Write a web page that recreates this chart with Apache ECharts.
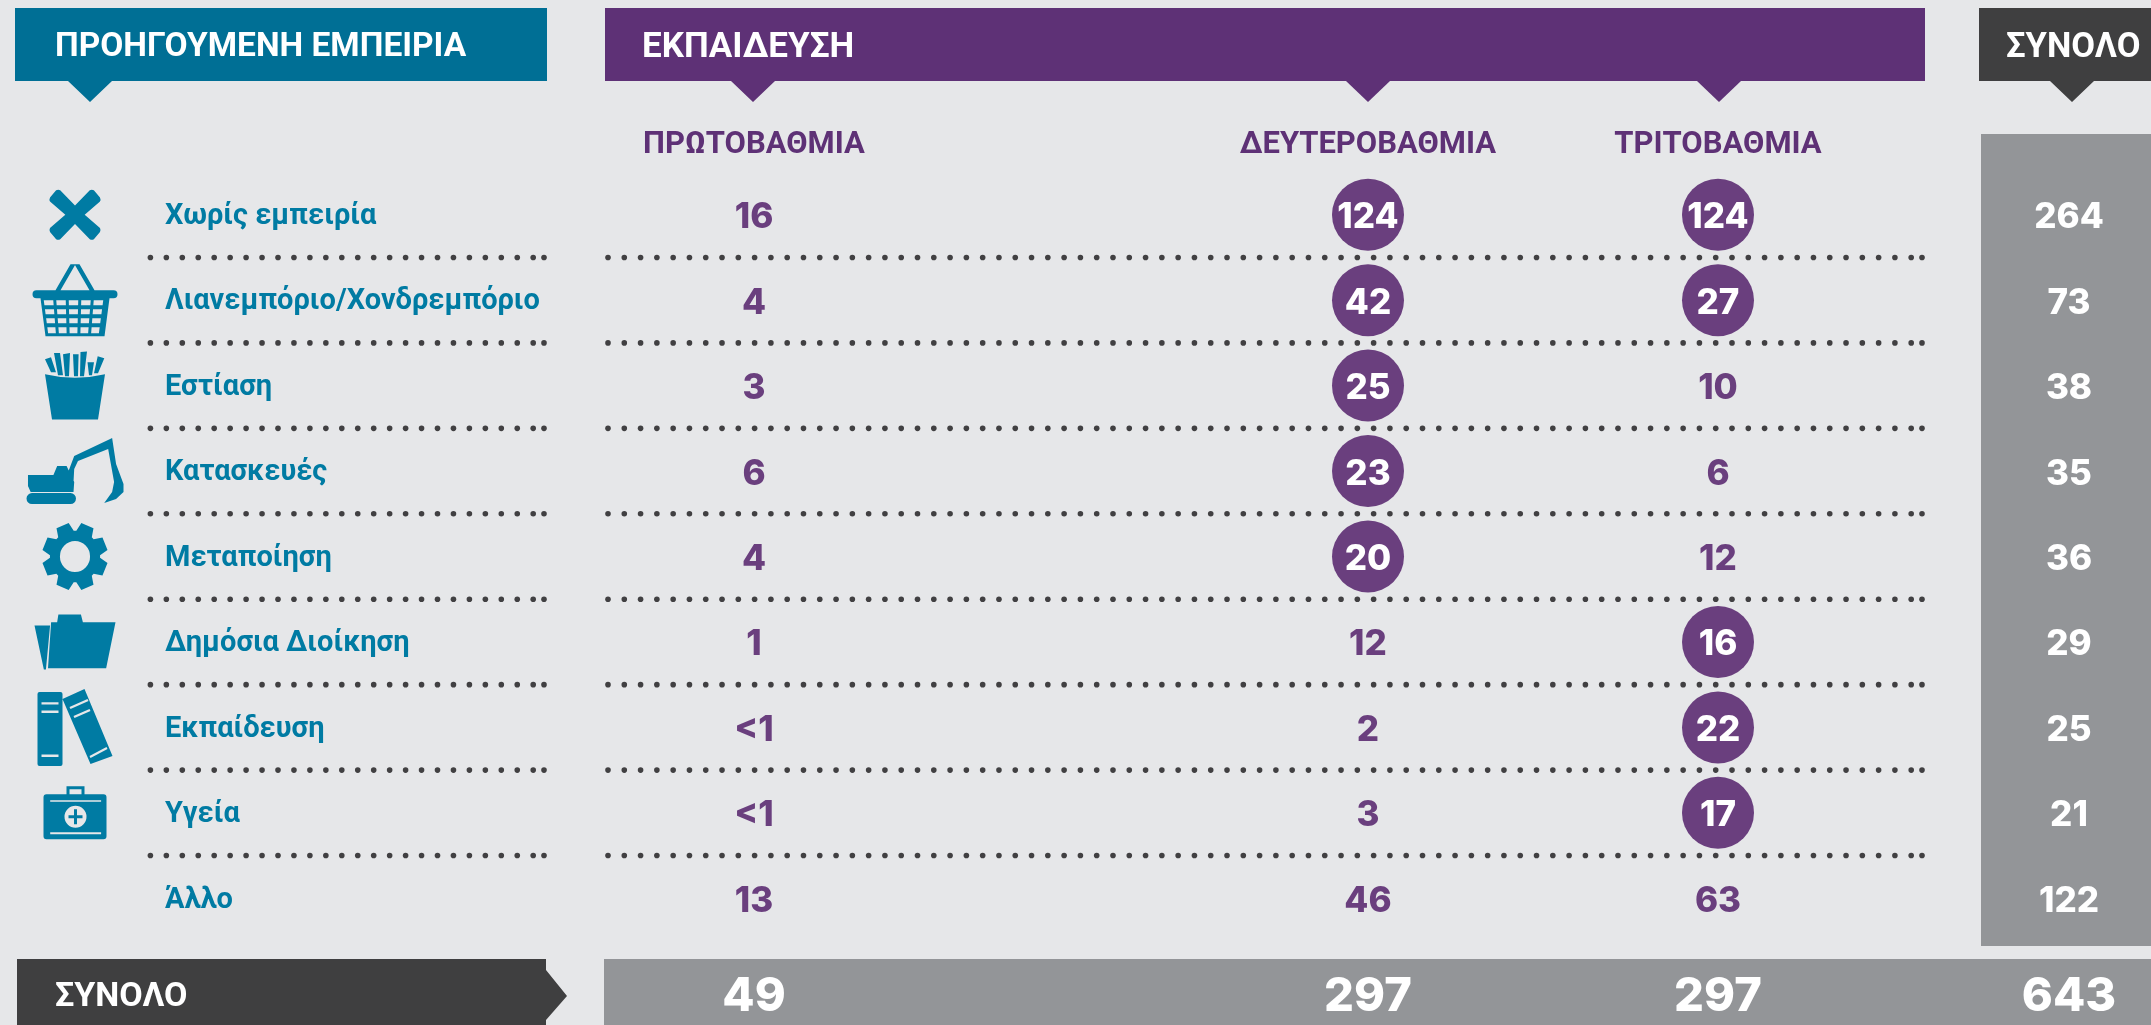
<!DOCTYPE html>
<html>
<head>
<meta charset="utf-8">
<style>
  html, body { margin: 0; padding: 0; background: #e6e7e9; }
  #main { width: 2151px; height: 1025px; }
</style>
<script src="https://cdn.jsdelivr.net/npm/echarts@6/dist/echarts.min.js"></script>
</head>
<body>
<div id="main"></div>
<script>
const experience = ['Χωρίς εμπειρία', 'Λιανεμπόριο/Χονδρεμπόριο', 'Εστίαση', 'Κατασκευές', 'Μεταποίηση', 'Δημόσια Διοίκηση', 'Εκπαίδευση', 'Υγεία', 'Άλλο'];
const educationLevels = ['ΠΡΩΤΟΒΑΘΜΙΑ', 'ΔΕΥΤΕΡΟΒΑΘΜΙΑ', 'ΤΡΙΤΟΒΑΘΜΙΑ'];
const primary = [16, 4, 3, 6, 4, 1, '<1', '<1', 13];
const secondary = [124, 42, 25, 23, 20, 12, 2, 3, 46];
const tertiary = [124, 27, 10, 6, 12, 16, 22, 17, 63];
const rowTotals = [264, 73, 38, 35, 36, 29, 25, 21, 122];
const columnTotals = [49, 297, 297, 643];
const primaryCircled = [];
const secondaryCircled = [0, 1, 2, 3, 4];
const tertiaryCircled = [0, 1, 5, 6, 7];

// layout, x axis runs in page pixels
const PAGE_W = 2151;
const COL_X = [754, 1368, 1718];
const TOTAL_X = 2069;
const ICON_X = 75;
const TEAL = '#007ba3';
const PURPLE = '#5e3176';
const CIRCLE = '#6a3f7e';
const DARK = '#3f3f40';
const GREY = '#939598';
const DOT = '#414042';
const LABEL_FONT = 'Roboto';
const NUM_FONT = 'Inter';

function basketPath() {
  let d = 'M4 26L81 26A4 4 0 0 1 81 34L4 34A4 4 0 0 1 4 26Z' +
    'M23 26L38 0L43 0L28 26Z M42 0L47 0L62 26L57 26Z M8 34L77 34L72 72L13 72Z';
  const rows = [[36, 41], [45, 50], [54, 59], [63, 69]];
  rows.forEach(r => {
    const at = y => 11 + (y - 34) * 5 / 38;
    const l0 = at(r[0]), l1 = at(r[1]);
    const w0 = (85 - 2 * l0) / 5, w1 = (85 - 2 * l1) / 5;
    for (let c = 0; c < 5; c++) {
      d += `M${l0 + c * w0} ${r[0]}L${l1 + c * w1} ${r[1]}L${l1 + (c + 1) * w1 - 3} ${r[1]}L${l0 + (c + 1) * w0 - 3} ${r[0]}Z`;
    }
  });
  return d;
}

function gearPath() {
  let d = '';
  const teeth = 8, R = 33, r = 25, c = 33;
  for (let i = 0; i < teeth; i++) {
    const a = (-90 + 22.5 + i * 45) * Math.PI / 180;
    const pts = [[r, a - 0.34], [R, a - 0.2], [R, a + 0.2], [r, a + 0.34]];
    pts.forEach(p => {
      d += (d ? 'L' : 'M') + (c + p[0] * Math.cos(p[1])).toFixed(2) + ' ' + (c + p[0] * Math.sin(p[1])).toFixed(2);
    });
  }
  return d + 'Z M33 18A15 15 0 0 0 33 48A15 15 0 0 0 33 18Z';
}

const iconPaths = [
  'M7 1Q9 0 11 1L25.5 16L40 1Q42 0 44 1L50 8Q51 10 50 12L35 25L50 38Q51 40 50 42L44 49Q42 50 40 49L25.5 34L11 49Q9 50 7 49L1 42Q0 40 1 38L16 25L1 12Q0 10 1 8Z',
  basketPath(),
  'M0 23Q30 30 60 23L53 68L7 68Z M0 8L6 6L11 21L6 21Z M9 2L15 2L18 24L13 24Z M18 3L25 2L24 25L20 25Z M28 3L33.6 3L33 25L29 25Z M35.5 1L42 0.5L39 25L35 25Z M42.5 11L49 11L47 24L44 24Z M52.7 5L59.3 7L53 22L49 22Z',
  'M4 55L43 55A5.5 5.5 0 0 1 43 66L4 66A5.5 5.5 0 0 1 4 55Z M0 37L25.7 37L29.5 28L39 28L46.7 44L46 54L2.7 54L0 48Z M41 33L46.7 18L83 1L85 0L89 26L96.5 46L96.5 54L89 61L77 65L85 54L87 44L81 11L50.5 23L46.7 31L46 44Z',
  gearPath(),
  'M0 13L15 13L11 53L9 53Z M23 3L44.7 3L46.6 10L78 10L69 52L13 52L16 10L21.8 10Z',
  'M2 3L23 3Q25 3 25 5L25 75Q25 77 23 77L2 77Q0 77 0 75L0 5Q0 3 2 3Z M4 13.3L4 15.5L21 15.5L21 13.3Z M4 21.7L4 24L21 24L21 21.7Z M4 65.7L4 68L21 68L21 65.7Z' +
    'M25 10L47 0L75 67L53 75Z M32 18L33 20L51 12L50 10Z M36 27L37 29L53 22L52 20Z M52 67L53 69L70 60L69 58Z',
  'M23 0L41 0L41 9L38 9L38 3L26 3L26 9L23 9Z M3 8L60 8Q63 8 63 11L63 50Q63 53 60 53L3 53Q0 53 0 50L0 11Q0 8 3 8Z' +
    'M6.7 14L6.7 15.5L57.6 15.5L57.6 14Z M6.7 46L6.7 48L57.6 48L57.6 46Z M32 19.5A11 11 0 0 0 32 41.5A11 11 0 0 0 32 19.5Z' +
    'M30.5 23L33.5 23L33.5 29L39 29L39 32L33.5 32L33.5 38L30.5 38L30.5 32L25 32L25 29L30.5 29Z'
];
const iconSizes = [[51, 50], [85, 72], [60, 68], [97, 66], [65, 67], [81, 55], [75, 77], [63, 53]];

function numberSeries(name, values, x, circled) {
  return {
    name: name,
    type: 'scatter',
    xAxisIndex: 0,
    yAxisIndex: 0,
    z: 4,
    silent: true,
    data: values.map((v, i) => {
      const on = circled.indexOf(i) >= 0;
      return {
        value: [x, i, v],
        symbolSize: on ? 72 : 1,
        itemStyle: { color: on ? CIRCLE : 'transparent', opacity: 1 },
        label: { color: on ? '#ffffff' : CIRCLE }
      };
    }),
    label: {
      show: true,
      position: 'inside',
      offset: [0, 3],
      formatter: p => p.value[2],
      fontFamily: NUM_FONT,
      fontWeight: 800,
      fontSize: 35
    }
  };
}

function banner(x0, x1, apex, color, text, textX, size) {
  return [
    {
      type: 'polygon',
      shape: { points: [[x0, 8], [x1, 8], [x1, 81], [apex + 22, 81], [apex, 102], [apex - 22, 81], [x0, 81]] },
      style: { fill: color },
      silent: true
    },
    {
      type: 'text',
      x: textX,
      y: 48,
      z: 3,
      silent: true,
      style: { text: text, fill: '#ffffff', font: `700 ${size}px ${LABEL_FONT}`, textAlign: 'left', textVerticalAlign: 'middle' }
    }
  ];
}

const rules = experience.slice(0, -1).map((_, i) => i);

const myChart = echarts.init(document.getElementById('main'));
myChart.setOption({
  backgroundColor: '#e6e7e9',
  animation: false,
  tooltip: { show: false },
  grid: [
    { left: 0, top: 172, width: PAGE_W, height: 769 },
    { left: 0, top: 961, width: PAGE_W, height: 64 }
  ],
  xAxis: [
    { type: 'value', gridIndex: 0, min: 0, max: PAGE_W, show: false },
    { type: 'value', gridIndex: 1, min: 0, max: PAGE_W, show: false }
  ],
  yAxis: [
    {
      type: 'category',
      gridIndex: 0,
      inverse: true,
      data: experience,
      z: 5,
      axisLine: { show: false },
      axisTick: { show: false },
      splitLine: { show: false },
      axisLabel: {
        inside: true,
        margin: 165,
        interval: 0,
        align: 'left',
        verticalAlign: 'top',
        lineHeight: 4,
        color: TEAL,
        fontFamily: LABEL_FONT,
        fontWeight: 700,
        fontSize: 29
      }
    },
    {
      type: 'category',
      gridIndex: 1,
      data: ['ΣΥΝΟΛΟ'],
      z: 5,
      axisLine: { show: false },
      axisTick: { show: false },
      splitLine: { show: false },
      axisLabel: {
        inside: true,
        margin: 55,
        align: 'left',
        verticalAlign: 'top',
        lineHeight: 8,
        color: '#ffffff',
        fontFamily: LABEL_FONT,
        fontWeight: 700,
        fontSize: 34
      }
    }
  ],
  graphic: [
    ...banner(15, 547, 90, '#006f95', 'ΠΡΟΗΓΟΥΜΕΝΗ ΕΜΠΕΙΡΙΑ', 55, 33.5),
    ...banner(605, 1925, 753, PURPLE, 'ΕΚΠΑΙΔΕΥΣΗ', 642, 35),
    {
      type: 'polygon', silent: true,
      shape: { points: [[1368 - 22, 81], [1368 + 22, 81], [1368, 102]] },
      style: { fill: PURPLE }
    },
    {
      type: 'polygon', silent: true,
      shape: { points: [[1719 - 22, 81], [1719 + 22, 81], [1719, 102]] },
      style: { fill: PURPLE }
    },
    ...banner(1979, PAGE_W, 2072, DARK, 'ΣΥΝΟΛΟ', 2006, 34.5),
    { type: 'rect', silent: true, shape: { x: 1981, y: 134, width: 170, height: 812 }, style: { fill: GREY } },
    { type: 'rect', silent: true, shape: { x: 604, y: 959, width: PAGE_W - 604, height: 66 }, style: { fill: GREY } },
    {
      type: 'polygon', silent: true,
      shape: { points: [[17, 959], [546, 959], [546, 970], [567, 996], [546, 1020], [546, 1025], [17, 1025]] },
      style: { fill: DARK }
    },
    ...educationLevels.map((t, i) => ({
      type: 'text',
      x: COL_X[i],
      y: 145,
      silent: true,
      style: { text: t, fill: PURPLE, font: `700 31px ${LABEL_FONT}`, textAlign: 'center', textVerticalAlign: 'middle' }
    }))
  ],
  series: [
    {
      name: 'icons',
      type: 'scatter',
      silent: true,
      xAxisIndex: 0,
      yAxisIndex: 0,
      z: 3,
      itemStyle: { color: TEAL, opacity: 1 },
      data: iconPaths.map((p, i) => ({
        value: [ICON_X, i],
        symbol: 'path://' + p,
        symbolSize: iconSizes[i]
      }))
    },
    {
      name: 'rules',
      type: 'custom',
      silent: true,
      xAxisIndex: 0,
      yAxisIndex: 0,
      z: 2,
      clip: false,
      data: rules.map(i => [0, i]),
      renderItem: (params, api) => {
        const y = api.coord([0, api.value(1)])[1] + api.size([0, 1])[1] / 2;
        const dots = [];
        const run = (start, step, count, last) => {
          for (let k = 0; k <= count; k++) dots.push(start + k * step);
          dots.push(last);
        };
        run(150.4, 15.95, 24, 544);
        run(608, 16.29, 80, 1922);
        return {
          type: 'group',
          children: dots.map(x => ({
            type: 'circle',
            shape: { cx: api.coord([x, 0])[0], cy: y, r: 2.8 },
            style: { fill: DOT }
          }))
        };
      }
    },
    numberSeries('Πρωτοβάθμια', primary, COL_X[0], primaryCircled),
    numberSeries('Δευτεροβάθμια', secondary, COL_X[1], secondaryCircled),
    numberSeries('Τριτοβάθμια', tertiary, COL_X[2], tertiaryCircled),
    {
      name: 'Σύνολο',
      type: 'scatter',
      silent: true,
      xAxisIndex: 0,
      yAxisIndex: 0,
      z: 4,
      symbolSize: 1,
      itemStyle: { color: 'transparent', opacity: 1 },
      data: rowTotals.map((v, i) => [TOTAL_X, i, v]),
      label: {
        show: true,
        position: 'inside',
        offset: [0, 3],
        formatter: p => p.value[2],
        color: '#ffffff',
        fontFamily: NUM_FONT,
        fontWeight: 800,
        fontSize: 35
      }
    },
    {
      name: 'Σύνολο εκπαίδευσης',
      type: 'scatter',
      silent: true,
      xAxisIndex: 1,
      yAxisIndex: 1,
      z: 4,
      symbolSize: 1,
      itemStyle: { color: 'transparent', opacity: 1 },
      data: columnTotals.map((v, i) => [i < 3 ? COL_X[i] : TOTAL_X, 0, v]),
      label: {
        show: true,
        position: 'inside',
        offset: [0, 4],
        formatter: p => p.value[2],
        color: '#ffffff',
        fontFamily: NUM_FONT,
        fontWeight: 800,
        fontSize: 47
      }
    }
  ]
});
</script>
</body>
</html>
